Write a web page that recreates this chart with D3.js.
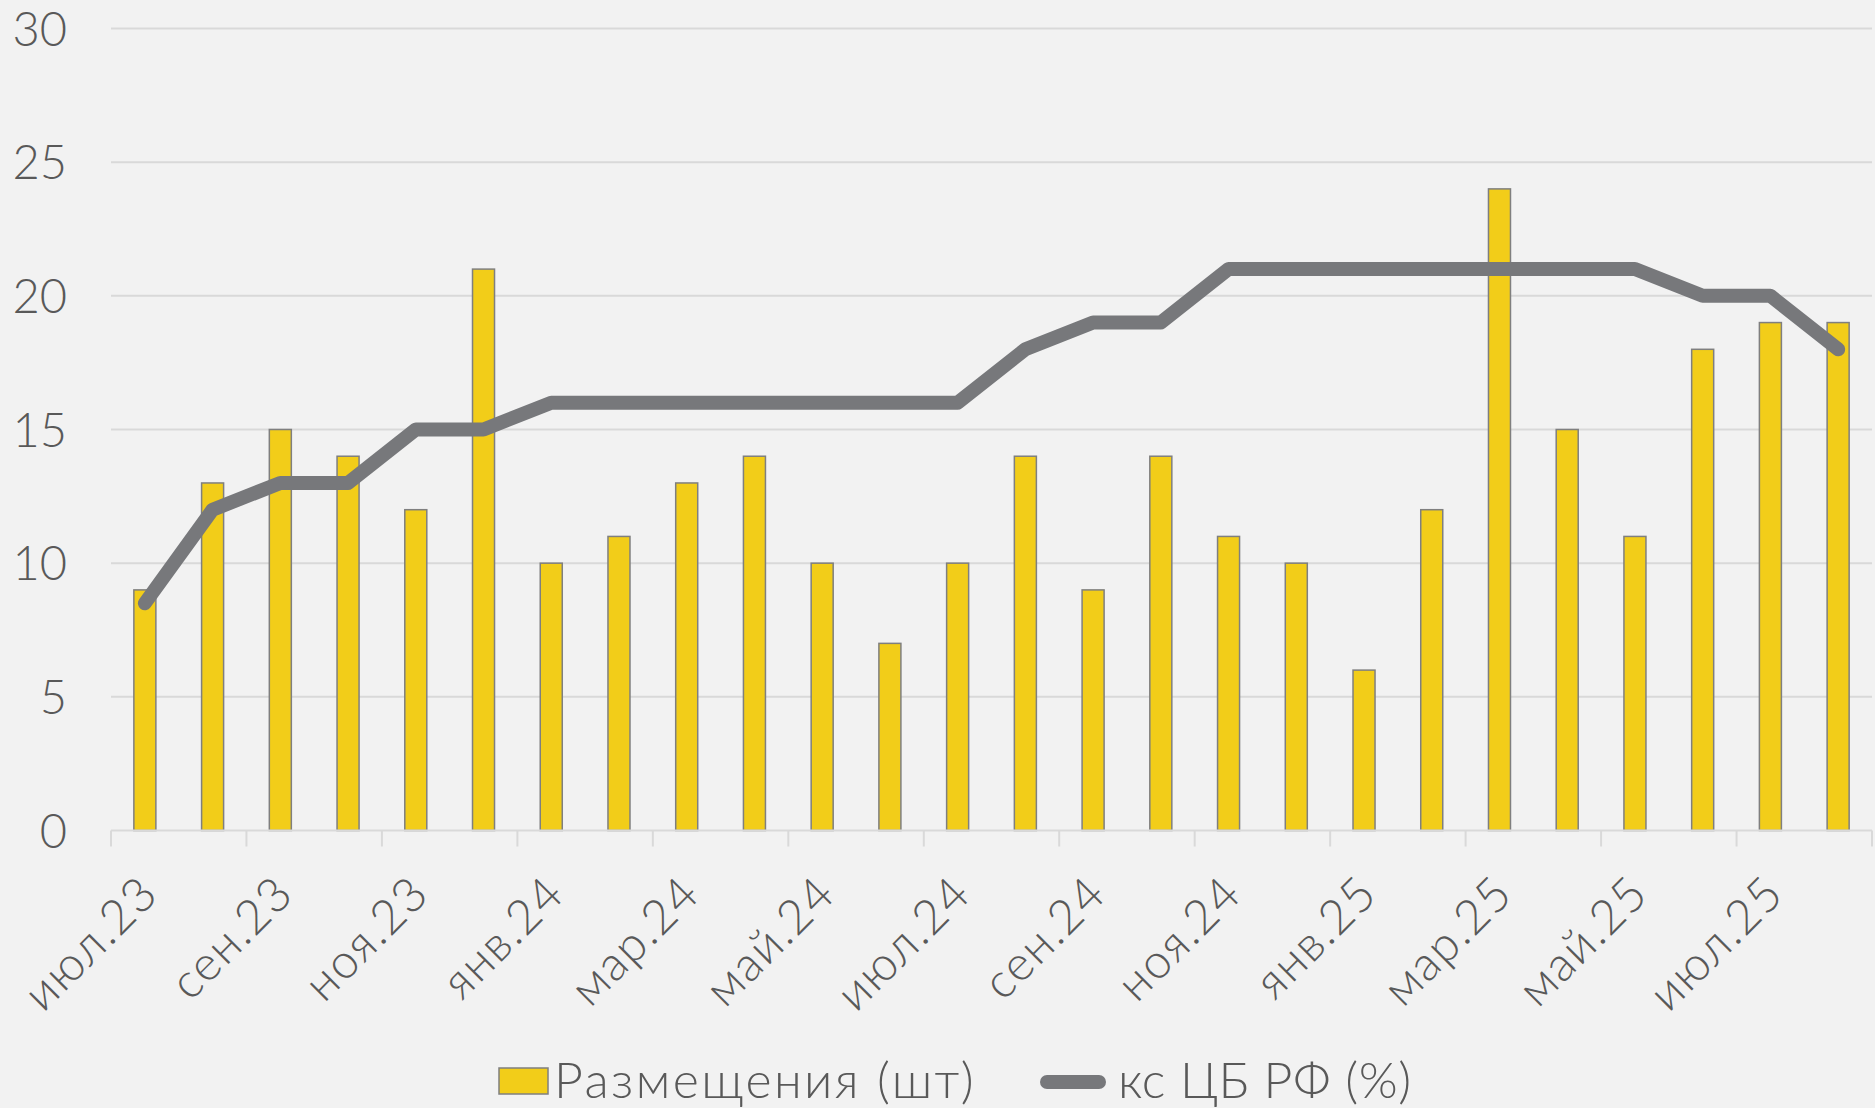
<!DOCTYPE html>
<html>
<head>
<meta charset="utf-8">
<script src="https://cdn.jsdelivr.net/npm/d3@7"></script>
<style>
  html, body { margin: 0; padding: 0; background: #f2f2f2; }
  svg { display: block; }
  text { font-family: "Lato", "DejaVu Sans", sans-serif; fill: #595959; }
</style>
</head>
<body>
<svg id="chart" width="1875" height="1108"></svg>
<script>
// months (categories)
var months = [
    "июл.23", "авг.23", "сен.23", "окт.23", "ноя.23", "дек.23",
    "янв.24", "фев.24", "мар.24", "апр.24", "май.24", "июн.24",
    "июл.24", "авг.24", "сен.24", "окт.24", "ноя.24", "дек.24",
    "янв.25", "фев.25", "мар.25", "апр.25", "май.25", "июн.25",
    "июл.25", "авг.25"
];
// placements count (bars)
var placements = [9, 13, 15, 14, 12, 21, 10, 11, 13, 14, 10, 7, 10, 14, 9, 14, 11, 10, 6, 12, 24, 15, 11, 18, 19, 19];
// CBR key rate (line)
var keyRate = [8.5, 12, 13, 13, 15, 15, 16, 16, 16, 16, 16, 16, 16, 18, 19, 19, 21, 21, 21, 21, 21, 21, 21, 20, 20, 18];
var yTicks = [0, 5, 10, 15, 20, 25, 30];
var seriesNames = ["Размещения (шт)", "кс ЦБ РФ (%)"];

window.onload = function()
{
    main();
};

function main()
{
    var svg = d3.select("#chart"),
        left = 111, right = 1872, top = 28.5, bottom = 830.5;

    var x = d3.scaleBand()
        .domain(months)
        .range([left, right])
        .paddingInner(0.675)
        .paddingOuter(0.3375);
    var xc = d3.scaleBand().domain(months).range([left, right]);

    var y = d3.scaleLinear().domain([0, 30]).range([bottom, top]);

    // gridlines
    svg.append("g").selectAll("line")
        .data(yTicks.slice(1))
        .enter().append("line")
        .attr("x1", left).attr("x2", right)
        .attr("y1", function(d) { return y(d); })
        .attr("y2", function(d) { return y(d); })
        .style("stroke", "#d9d9d9")
        .style("stroke-width", 2);

    // y labels
    svg.append("g").selectAll("text")
        .data(yTicks)
        .enter().append("text")
        .attr("x", 67)
        .attr("y", function(d) { return y(d) + 17; })
        .attr("text-anchor", "end")
        .style("font-size", "47px")
        .style("font-weight", 300)
        .text(function(d) { return d; });

    // bars
    svg.append("g").selectAll("rect")
        .data(placements)
        .enter().append("rect")
        .attr("x", function(d, i) { return x(months[i]); })
        .attr("width", x.bandwidth())
        .attr("y", function(d) { return y(d); })
        .attr("height", function(d) { return bottom - y(d); })
        .style("fill", "#f2cd19")
        .style("stroke", "#7f7f7f")
        .style("stroke-width", 1.5);

    // x axis line and ticks
    svg.append("line")
        .attr("x1", left).attr("x2", right)
        .attr("y1", bottom).attr("y2", bottom)
        .style("stroke", "#d9d9d9").style("stroke-width", 2);

    var tickMonths = months.filter(function(d, i) { return i % 2 === 0; });
    svg.append("g").selectAll("line")
        .data(tickMonths.concat(["end"]))
        .enter().append("line")
        .attr("x1", function(d) { return d === "end" ? right : xc(d); })
        .attr("x2", function(d) { return d === "end" ? right : xc(d); })
        .attr("y1", bottom).attr("y2", bottom + 16)
        .style("stroke", "#d9d9d9").style("stroke-width", 2);

    // x labels rotated
    svg.append("g").selectAll("text")
        .data(tickMonths)
        .enter().append("text")
        .attr("transform", function(d) {
            var cx = xc(d) + xc.bandwidth() / 2;
            return "translate(" + (cx - 8) + "," + (bottom + 42) + ") rotate(-45)";
        })
        .attr("text-anchor", "end")
        .attr("dy", "0.7em")
        .style("font-size", "48px")
        .style("font-weight", 300)
        .style("letter-spacing", "1.5px")
        .text(function(d) { return d; });

    // key rate line
    var line = d3.line()
        .x(function(d, i) { return xc(months[i]) + xc.bandwidth() / 2; })
        .y(function(d) { return y(d); });

    svg.append("path")
        .datum(keyRate)
        .attr("d", line)
        .style("fill", "none")
        .style("stroke", "#77787b")
        .style("stroke-width", 14)
        .style("stroke-linejoin", "round")
        .style("stroke-linecap", "round");

    // legend
    var lg = svg.append("g");
    lg.append("rect")
        .attr("x", 499).attr("y", 1068)
        .attr("width", 49).attr("height", 26)
        .style("fill", "#f2cd19")
        .style("stroke", "#7f7f7f")
        .style("stroke-width", 1.5);
    lg.append("text")
        .attr("x", 554).attr("y", 1098)
        .style("font-size", "50px")
        .style("font-weight", 300)
        .style("letter-spacing", "2.4px")
        .text(seriesNames[0]);
    lg.append("line")
        .attr("x1", 1047).attr("x2", 1099)
        .attr("y1", 1082).attr("y2", 1082)
        .style("stroke", "#77787b")
        .style("stroke-width", 14)
        .style("stroke-linecap", "round");
    lg.append("text")
        .attr("x", 1118).attr("y", 1098)
        .style("font-size", "50px")
        .style("font-weight", 300)
        .style("letter-spacing", "0.5px")
        .text(seriesNames[1]);
}
</script>
</body>
</html>
